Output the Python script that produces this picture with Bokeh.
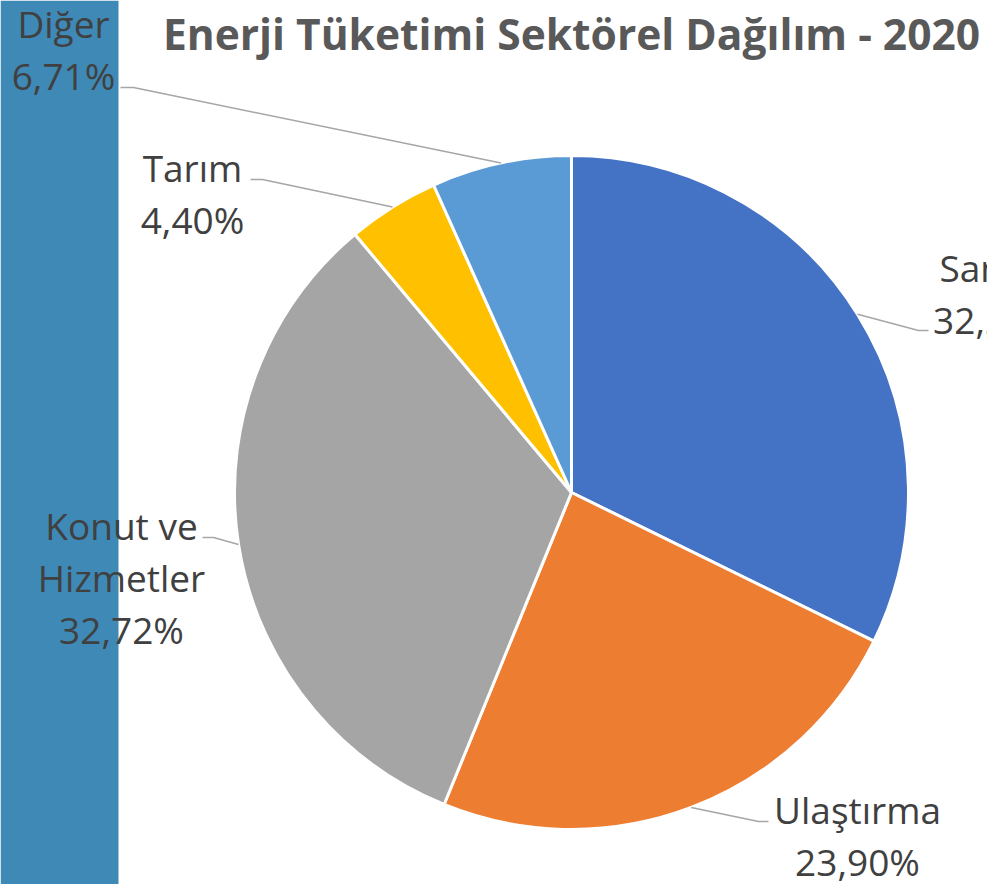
import math
from bokeh.plotting import figure
from bokeh.models import Range1d, ColumnDataSource, Label
from bokeh.core.properties import value
from bokeh.embed import file_html
from bokeh.resources import INLINE

# ---- data ----
categories = ["Sanayi", "Ulaştırma", "Konut ve Hizmetler", "Tarım", "Diğer"]
label_lines = [["Sanayi"], ["Ulaştırma"], ["Konut ve", "Hizmetler"], ["Tarım"], ["Diğer"]]
shares = [32.27, 23.90, 32.72, 4.40, 6.71]
colors = ["#4472C4", "#ED7D31", "#A5A5A5", "#FFC000", "#5B9BD5"]
title_text = "Enerji Tüketimi Sektörel Dağılım - 2020"

# ---- layout (screen pixels) ----
W, H = 987, 884
CX, CY, R = 571, 492, 337
LINE_STEP = 52
label_pos = [(995, 293), (857, 835), (121, 577), (192, 193), (63, 49)]
leader_elbow = [((918, 330), (928, 330)), ((758, 821), (768, 821)),
                ((213, 537), (202, 537)), ((262, 179), (250, 179)),
                ((133, 87), (120, 87))]

total = sum(shares)
starts, ends, mids = [], [], []
cum = 0.0
for s in shares:
    a0 = math.pi / 2 - 2 * math.pi * cum / total
    cum += s
    a1 = math.pi / 2 - 2 * math.pi * cum / total
    starts.append(a0)
    ends.append(a1)
    mids.append((a0 + a1) / 2)

p = figure(width=W, height=H, output_backend="svg", toolbar_location=None,
           x_range=Range1d(0, W), y_range=Range1d(-H, 0),
           x_axis_type=None, y_axis_type=None, min_border=0)
p.grid.visible = False
p.outline_line_color = None
p.background_fill_color = "white"
p.border_fill_color = "white"

# left blue band
p.quad(left=[0], right=[118], top=[0], bottom=[-H], fill_color="#3E89B6", line_color=None)

src = ColumnDataSource(dict(start=starts, end=ends, color=colors, cat=categories))
p.wedge(x=CX, y=-CY, radius=R, start_angle="start", end_angle="end",
        direction="clock", fill_color="color", line_color="white", line_width=3,
        source=src)

# leader lines
for m, (elb, end) in zip(mids, leader_elbow):
    ex = CX + R * math.cos(m)
    ey = -CY + R * math.sin(m)
    p.line([ex, elb[0], end[0]], [ey, -elb[1], -end[1]], line_color="#A6A6A6", line_width=1.5)

# labels (one glyph row per text line)
xs, ys, ts = [], [], []
for lines, s, (lx, ly) in zip(label_lines, shares, label_pos):
    all_lines = lines + [f"{s:.2f}%".replace(".", ",")]
    n = len(all_lines)
    for i, t in enumerate(all_lines):
        xs.append(lx)
        ys.append(-(ly + (i - (n - 1) / 2) * LINE_STEP))
        ts.append(t)
lsrc = ColumnDataSource(dict(x=xs, y=ys, t=ts))
p.text(x="x", y="y", text="t", source=lsrc, text_align="center", text_baseline="middle",
       text_font=value("Open Sans"), text_font_size="37px", text_color="#404040")

title = Label(x=571, y=-33, text=title_text, text_align="center", text_baseline="middle",
              text_font="Open Sans", text_font_size="42.5px", text_font_style="bold",
              text_color="#595959")
p.add_layout(title)

open("out.html", "w").write(file_html(p, INLINE))
